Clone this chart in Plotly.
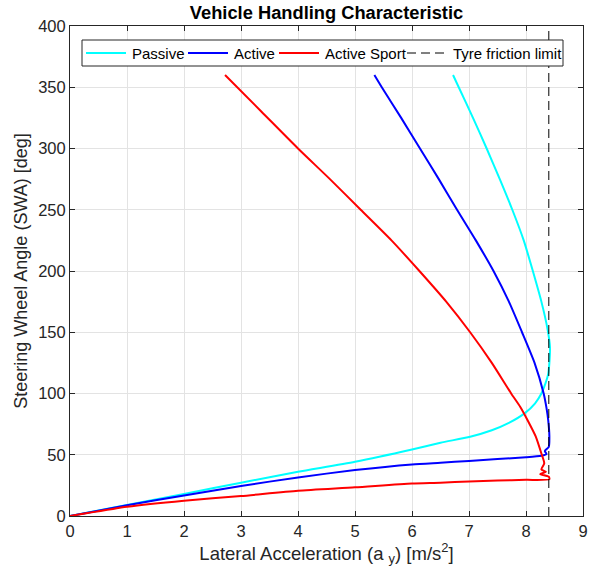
import plotly.graph_objects as go

# Lateral acceleration [m/s^2] and steering wheel angle [deg] for each configuration
passive_ay = [0.0, 1.0, 2.0, 3.0, 4.0, 5.0, 6.0, 6.5, 7.02, 7.4, 7.7, 7.98, 8.16, 8.27, 8.34,
              8.39, 8.41, 8.42, 8.38, 8.27, 8.12, 7.96, 7.76, 7.54, 7.31, 7.07, 6.82, 6.72]
passive_swa = [0.0, 9.0, 18.0, 27.2, 36.1, 44.3, 54.3, 59.8, 64.7, 70.0, 76.0, 84.0, 92.0, 100.0, 108.0,
               116.0, 125.0, 138.0, 152.0, 175.0, 200.0, 225.0, 250.0, 275.0, 300.0, 325.0, 350.0, 360.0]

active_ay = [0.0, 1.0, 2.0, 3.0, 4.0, 5.0, 6.0, 6.5, 7.0, 7.5, 8.0, 8.27, 8.36, 8.33,
             8.40, 8.41, 8.39, 8.36, 8.31, 8.15, 7.93, 7.70, 7.43, 7.12, 6.79, 6.47, 6.14, 5.81,
             5.47, 5.34]
active_swa = [0.0, 8.7, 16.8, 24.5, 31.5, 37.5, 42.1, 43.5, 45.0, 46.5, 48.0, 49.2, 50.5, 53.0,
              56.5, 65.0, 78.0, 88.0, 100.0, 125.0, 150.0, 175.0, 200.0, 225.0, 250.0, 275.0, 300.0, 325.0,
              350.0, 360.0]

sport_ay = [0.0, 1.0, 2.0, 3.0, 4.0, 5.0, 6.0, 6.5, 7.0, 7.5, 8.0, 8.41, 8.40, 8.25,
            8.35, 8.27, 8.32, 8.27, 8.17, 8.03, 7.90, 7.74, 7.40, 7.02, 6.60, 6.13, 5.64,
            5.10, 4.56, 4.00, 3.36, 2.72]
sport_swa = [0.0, 7.5, 12.5, 16.3, 20.6, 23.4, 26.6, 27.2, 28.2, 29.0, 29.5, 30.0, 32.0, 34.2,
             36.1, 38.0, 43.0, 51.0, 65.0, 78.0, 89.0, 100.0, 125.0, 150.0, 175.0, 200.0, 225.0,
             250.0, 275.0, 300.0, 330.0, 360.0]

# Tyre friction limit
limit_ay = [8.4, 8.4]
limit_swa = [0.0, 400.0]

x_ticks = [0, 1, 2, 3, 4, 5, 6, 7, 8, 9]
y_ticks = [0, 50, 100, 150, 200, 250, 300, 350, 400]

series_names = ["Passive", "Active", "Active Sport", "Tyre friction limit"]
series_colors = ["#00FFFF", "#0000FF", "#FF0000", "black"]

FONT = "Liberation Sans, Arial, Helvetica, sans-serif"
INK = "#262626"
DASH = "9px,5px"

fig = go.Figure()
curves = [(passive_ay, passive_swa), (active_ay, active_swa), (sport_ay, sport_swa)]
for (ax_vals, swa_vals), name, color in zip(curves, series_names, series_colors):
    fig.add_trace(go.Scatter(x=ax_vals, y=swa_vals, mode="lines", name=name, showlegend=False,
                             line=dict(color=color, width=2, shape="spline", smoothing=0.6)))
fig.add_trace(go.Scatter(x=limit_ay, y=limit_swa, mode="lines", name=series_names[3],
                         showlegend=False, line=dict(color="black", width=1, dash=DASH)))

# Legend box drawn in plot-paper coordinates (plot area is 513 x 490 px)
PW, PH = 513.0, 490.0
def px_x(p):
    return (p - 70) / PW
def px_y(p):
    return (516 - p) / PH

shapes = [dict(type="rect", xref="paper", yref="paper",
               x0=px_x(82), x1=px_x(563), y0=px_y(66), y1=px_y(40),
               line=dict(color=INK, width=1), fillcolor="white", layer="above")]
annotations = []
sample_starts = [86, 188, 279, 407]
legend_mid = 53
for name, color, x0 in zip(series_names, series_colors, sample_starts):
    line_style = dict(color=color, width=2)
    if name == "Tyre friction limit":
        line_style = dict(color=color, width=1, dash=DASH)
    shapes.append(dict(type="line", xref="paper", yref="paper",
                       x0=px_x(x0), x1=px_x(x0 + 40), y0=px_y(legend_mid), y1=px_y(legend_mid),
                       line=line_style, layer="above"))
    annotations.append(dict(text=name, xref="paper", yref="paper",
                            x=px_x(x0 + 44), y=px_y(legend_mid), xanchor="left", yanchor="middle",
                            showarrow=False, font=dict(family=FONT, size=15, color="black")))

axis_common = dict(
    showline=True, linecolor=INK, linewidth=1, mirror="ticks",
    ticks="inside", ticklen=5, tickcolor=INK, tickwidth=1,
    showgrid=True, gridcolor="#e3e3e3", gridwidth=1, zeroline=False,
    tickfont=dict(family=FONT, size=16.5, color=INK),
)

fig.update_layout(
    width=601, height=588,
    margin=dict(l=70, r=18, t=26, b=72),
    paper_bgcolor="white", plot_bgcolor="white",
    font=dict(family=FONT, color=INK),
    showlegend=False,
    title=dict(text="<b>Vehicle Handling Characteristic</b>",
               font=dict(family=FONT, size=18.3, color="black"),
               x=0.5, xref="paper", xanchor="center",
               y=1 - 13 / 588, yref="container", yanchor="middle"),
    xaxis=dict(range=[0, 9], tickvals=x_ticks,
               title=dict(text="Lateral Acceleration (a <sub>y</sub>) [m/s<sup>2</sup>]",
                          font=dict(family=FONT, size=18.5, color=INK), standoff=5),
               **axis_common),
    yaxis=dict(range=[0, 400], tickvals=y_ticks,
               title=dict(text="Steering Wheel Angle (SWA) [deg]",
                          font=dict(family=FONT, size=18, color=INK), standoff=5),
               **axis_common),
    shapes=shapes,
    annotations=annotations,
)

fig.write_html("out.html")
